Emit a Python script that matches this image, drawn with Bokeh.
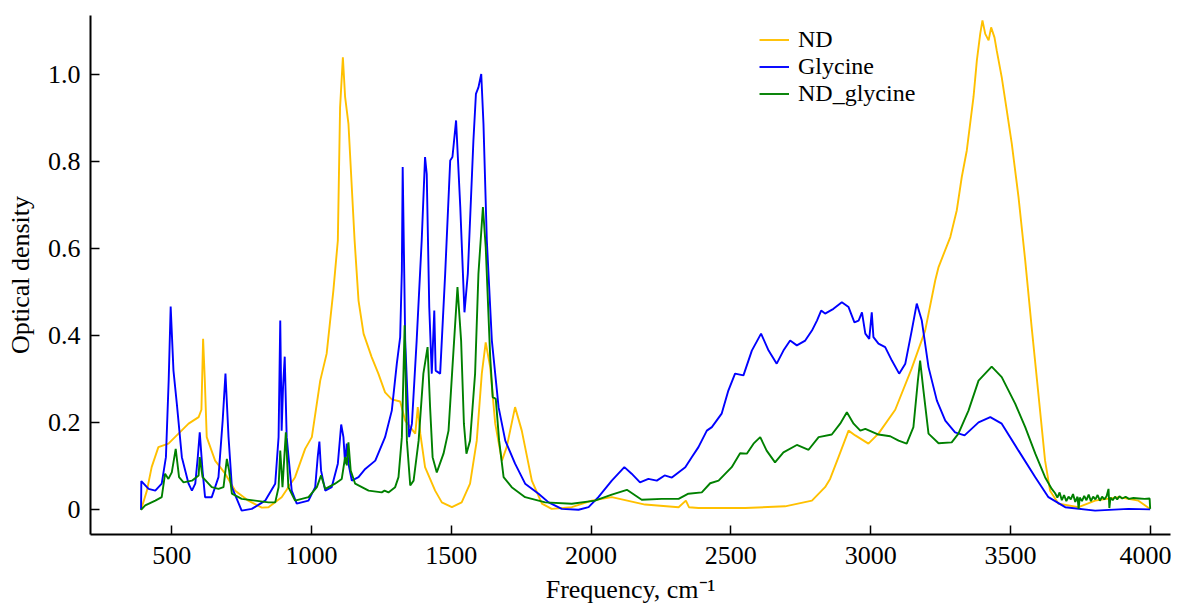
from bokeh.plotting import figure
from bokeh.models import Range1d, FixedTicker, Legend, LegendItem
from bokeh.embed import file_html
from bokeh.resources import INLINE

# ---------------- data ----------------
nd_x = [390, 411, 428, 452, 470, 488, 524, 560, 596, 606, 612, 618, 625, 655, 691, 727, 774, 822, 846,
        893, 941, 977, 1001, 1031, 1054, 1078, 1094, 1102, 1112, 1120, 1132, 1154, 1168, 1186, 1215,
        1239, 1263, 1287, 1317, 1335, 1371, 1380, 1389, 1406, 1442, 1466, 1502, 1537, 1567, 1591,
        1609, 1623, 1639, 1657, 1681, 1698, 1728, 1752, 1788, 1824, 1859, 1931, 2002, 2074, 2193,
        2313, 2339, 2350, 2384, 2551, 2694, 2790, 2837, 2855, 2885, 2921, 2945, 2992, 3028, 3088,
        3147, 3195, 3231, 3243, 3285, 3308, 3326, 3344, 3368, 3380, 3392, 3400, 3410, 3422, 3431,
        3443, 3451, 3469, 3487, 3505, 3529, 3553, 3576, 3600, 3624, 3642, 3672, 3744, 3803, 3887,
        3958, 4000]
nd_y = [0.000, 0.044, 0.098, 0.144, 0.148, 0.152, 0.175, 0.198, 0.213, 0.230, 0.393, 0.300, 0.167,
        0.113, 0.083, 0.044, 0.021, 0.005, 0.006, 0.029, 0.075, 0.140, 0.167, 0.297, 0.359, 0.504,
        0.619, 0.925, 1.040, 0.949, 0.887, 0.619, 0.481, 0.405, 0.351, 0.313, 0.270, 0.254, 0.249,
        0.205, 0.175, 0.236, 0.175, 0.098, 0.044, 0.017, 0.006, 0.017, 0.060, 0.159, 0.313, 0.385,
        0.328, 0.198, 0.113, 0.144, 0.236, 0.182, 0.067, 0.014, 0.002, 0.006, 0.021, 0.029, 0.012,
        0.006, 0.021, 0.006, 0.004, 0.004, 0.008, 0.021, 0.052, 0.071, 0.121, 0.182, 0.171, 0.152,
        0.175, 0.230, 0.325, 0.412, 0.527, 0.558, 0.627, 0.688, 0.765, 0.826, 0.949, 1.033, 1.094,
        1.125, 1.094, 1.079, 1.109, 1.086, 1.056, 0.994, 0.918, 0.841, 0.719, 0.573, 0.420, 0.267,
        0.113, 0.044, 0.014, 0.006, 0.021, 0.029, 0.021, 0.002]

gly_x = [390, 391, 417, 441, 464, 479, 489, 496, 506, 518, 536, 560, 572, 584, 593, 600, 610, 619, 643,
         667, 682, 692, 703, 715, 750, 786, 834, 870, 882, 888, 893, 898, 904, 911, 929, 947, 989,
         1013, 1022, 1028, 1034, 1049, 1072, 1094, 1106, 1114, 1120, 1126, 1132, 1144, 1168, 1192,
         1228, 1263, 1287, 1305, 1317, 1323, 1326, 1335, 1349, 1359, 1376, 1394, 1406, 1412, 1421,
         1430, 1439, 1444, 1460, 1478, 1496, 1504, 1517, 1532, 1547, 1559, 1579, 1588, 1597, 1607,
         1615, 1627, 1645, 1669, 1693, 1728, 1764, 1812, 1848, 1895, 1955, 1991, 2026, 2074, 2119,
         2145, 2175, 2205, 2235, 2263, 2289, 2337, 2360, 2384, 2414, 2432, 2467, 2491, 2515, 2545,
         2575, 2608, 2635, 2664, 2688, 2712, 2736, 2766, 2790, 2808, 2823, 2837, 2867, 2897, 2921,
         2942, 2957, 2969, 2981, 2995, 3004, 3010, 3028, 3052, 3076, 3102, 3124, 3147, 3165, 3183,
         3207, 3237, 3267, 3302, 3336, 3386, 3428, 3469, 3529, 3589, 3636, 3696, 3803, 3922, 4000]
gly_y = [0.000, 0.066, 0.048, 0.044, 0.060, 0.121, 0.300, 0.467, 0.320, 0.244, 0.121, 0.060, 0.044,
         0.060, 0.121, 0.178, 0.090, 0.029, 0.029, 0.075, 0.205, 0.313, 0.167, 0.052, -0.002, 0.002,
         0.021, 0.060, 0.167, 0.435, 0.182, 0.282, 0.352, 0.167, 0.044, 0.014, 0.021, 0.052, 0.121,
         0.157, 0.090, 0.044, 0.052, 0.106, 0.196, 0.167, 0.106, 0.152, 0.106, 0.067, 0.075, 0.094,
         0.113, 0.167, 0.228, 0.336, 0.397, 0.550, 0.788, 0.389, 0.167, 0.198, 0.389, 0.619, 0.811,
         0.772, 0.466, 0.313, 0.458, 0.320, 0.313, 0.543, 0.803, 0.811, 0.895, 0.696, 0.454, 0.543,
         0.849, 0.956, 0.971, 1.002, 0.887, 0.619, 0.389, 0.236, 0.159, 0.106, 0.060, 0.037, 0.017,
         0.002, 0.000, 0.006, 0.029, 0.067, 0.098, 0.083, 0.063, 0.071, 0.067, 0.079, 0.074, 0.098,
         0.121, 0.144, 0.182, 0.190, 0.221, 0.274, 0.313, 0.309, 0.366, 0.405, 0.366, 0.336, 0.366,
         0.389, 0.378, 0.389, 0.412, 0.435, 0.458, 0.451, 0.462, 0.477, 0.466, 0.431, 0.435, 0.454,
         0.405, 0.393, 0.454, 0.397, 0.382, 0.374, 0.343, 0.313, 0.336, 0.412, 0.474, 0.435, 0.328,
         0.251, 0.205, 0.178, 0.171, 0.201, 0.213, 0.198, 0.136, 0.075, 0.029, 0.006, -0.002, 0.002,
         0.001]

ndg_x = [390, 405, 441, 464, 476, 488, 500, 514, 526, 542, 572, 596, 600, 610, 643, 667, 685, 697, 705,
         715, 750, 798, 846, 870, 882, 888, 896, 908, 917, 941, 989, 1019, 1034, 1049, 1084, 1108,
         1120, 1126, 1132, 1140, 1156, 1204, 1251, 1261, 1275, 1299, 1311, 1323, 1333, 1341, 1353,
         1365, 1383, 1400, 1415, 1424, 1433, 1448, 1472, 1490, 1504, 1522, 1535, 1545, 1554, 1567,
         1585, 1597, 1613, 1623, 1639, 1648, 1659, 1671, 1687, 1716, 1764, 1836, 1931, 2014, 2074,
         2128, 2181, 2253, 2313, 2348, 2396, 2426, 2456, 2503, 2533, 2557, 2581, 2605, 2628, 2658,
         2688, 2736, 2778, 2814, 2861, 2891, 2915, 2939, 2963, 2981, 3028, 3070, 3100, 3129, 3153,
         3169, 3177, 3189, 3207, 3243, 3290, 3314, 3350, 3386, 3433, 3469, 3517, 3553, 3589, 3624,
         3648, 3660, 3668, 3676, 3684, 3692, 3700, 3708, 3716, 3724, 3732, 3740, 3744, 3748, 3756,
         3764, 3772, 3780, 3788, 3796, 3804, 3812, 3820, 3828, 3836, 3844, 3851, 3854, 3858, 3866,
         3874, 3882, 3890, 3900, 3912, 3924, 3940, 3960, 3980, 3998, 4000]
ndg_y = [0.000, 0.010, 0.021, 0.029, 0.083, 0.071, 0.086, 0.140, 0.075, 0.063, 0.067, 0.079, 0.121,
         0.075, 0.052, 0.048, 0.052, 0.117, 0.090, 0.037, 0.025, 0.021, 0.017, 0.017, 0.052, 0.136,
         0.052, 0.178, 0.052, 0.021, 0.029, 0.052, 0.079, 0.048, 0.060, 0.071, 0.121, 0.102, 0.155,
         0.090, 0.060, 0.044, 0.040, 0.044, 0.040, 0.052, 0.075, 0.167, 0.424, 0.159, 0.056, 0.067,
         0.159, 0.313, 0.374, 0.236, 0.121, 0.086, 0.129, 0.182, 0.328, 0.512, 0.389, 0.198, 0.129,
         0.159, 0.313, 0.543, 0.696, 0.604, 0.351, 0.259, 0.255, 0.159, 0.075, 0.052, 0.029, 0.017,
         0.014, 0.021, 0.035, 0.046, 0.023, 0.025, 0.025, 0.037, 0.040, 0.061, 0.067, 0.098, 0.130,
         0.129, 0.152, 0.167, 0.136, 0.109, 0.132, 0.149, 0.138, 0.167, 0.173, 0.198, 0.224, 0.198,
         0.182, 0.186, 0.173, 0.169, 0.159, 0.152, 0.190, 0.297, 0.343, 0.274, 0.175, 0.153, 0.155,
         0.175, 0.228, 0.297, 0.329, 0.305, 0.244, 0.190, 0.129, 0.075, 0.048, 0.038, 0.028, 0.040,
         0.022, 0.034, 0.020, 0.030, 0.024, 0.036, 0.018, 0.030, 0.002, 0.028, 0.020, 0.032, 0.022,
         0.035, 0.020, 0.030, 0.024, 0.034, 0.021, 0.030, 0.024, 0.031, 0.048, 0.004, 0.028, 0.022,
         0.030, 0.024, 0.031, 0.026, 0.030, 0.025, 0.027, 0.026, 0.025, 0.026, 0.002]

series_names = ["ND", "Glycine", "ND_glycine"]
series_colors = ["#FFC000", "#0000FF", "#008000"]

x_ticks = [500, 1000, 1500, 2000, 2500, 3000, 3500, 4000]
y_ticks = [0, 0.2, 0.4, 0.6, 0.8, 1.0]

FONT = "Liberation Serif"

# ---------------- figure ----------------
p = figure(frame_width=1080, frame_height=519,
           x_range=Range1d(209.2, 4072.7), y_range=Range1d(-0.0568, 1.1363),
           output_backend="svg", toolbar_location=None,
           min_border_left=90, min_border_right=1, min_border_top=15, min_border_bottom=60)
p.outline_line_color = None
p.xgrid.visible = False
p.ygrid.visible = False
p.background_fill_color = "white"
p.border_fill_color = "white"

renderers = []
for xs, ys, c in zip([nd_x, gly_x, ndg_x], [nd_y, gly_y, ndg_y], series_colors):
    r = p.line(xs, ys, line_color=c, line_width=1.9)
    renderers.append(r)

for ax in (p.xaxis[0], p.yaxis[0]):
    ax.axis_line_width = 2
    ax.axis_line_color = "black"
    ax.major_tick_in = 9
    ax.major_tick_out = 0
    ax.major_tick_line_width = 1.5
    ax.minor_tick_line_color = None
    ax.major_label_text_font = FONT
    ax.major_label_text_font_size = "26px"
    ax.major_label_text_color = "black"
    ax.axis_label_text_font = FONT
    ax.axis_label_text_font_size = "26px"
    ax.axis_label_text_font_style = "normal"
    ax.axis_label_text_color = "black"

p.xaxis.ticker = FixedTicker(ticks=x_ticks)
p.yaxis.ticker = FixedTicker(ticks=y_ticks)
p.yaxis.major_label_overrides = {0: "0", 1: "1.0"}
p.xaxis.axis_label = "Frequency, cm\u207b\u00b9"
p.yaxis.axis_label = "Optical density"
p.xaxis.major_label_standoff = 12
p.yaxis.major_label_standoff = 10
p.xaxis.axis_label_standoff = 8
p.yaxis.axis_label_standoff = 10

# one legend box per entry, placed one under the other
item_h = 27
centers_from_top = [24.5, 51.5, 78.5]   # px below frame top
for n, r, cy in zip(series_names, renderers, centers_from_top):
    lg = Legend(items=[LegendItem(label=n, renderers=[r])],
                location=(669, 519 - cy - item_h / 2), orientation="vertical",
                border_line_color=None, background_fill_alpha=0,
                padding=0, margin=0, spacing=0,
                glyph_width=30, glyph_height=item_h, label_standoff=9,
                label_text_font=FONT, label_text_font_size="24px",
                label_text_color="black", label_height=item_h)
    p.add_layout(lg, "center")

open("out.html", "w").write(file_html(p, INLINE))
